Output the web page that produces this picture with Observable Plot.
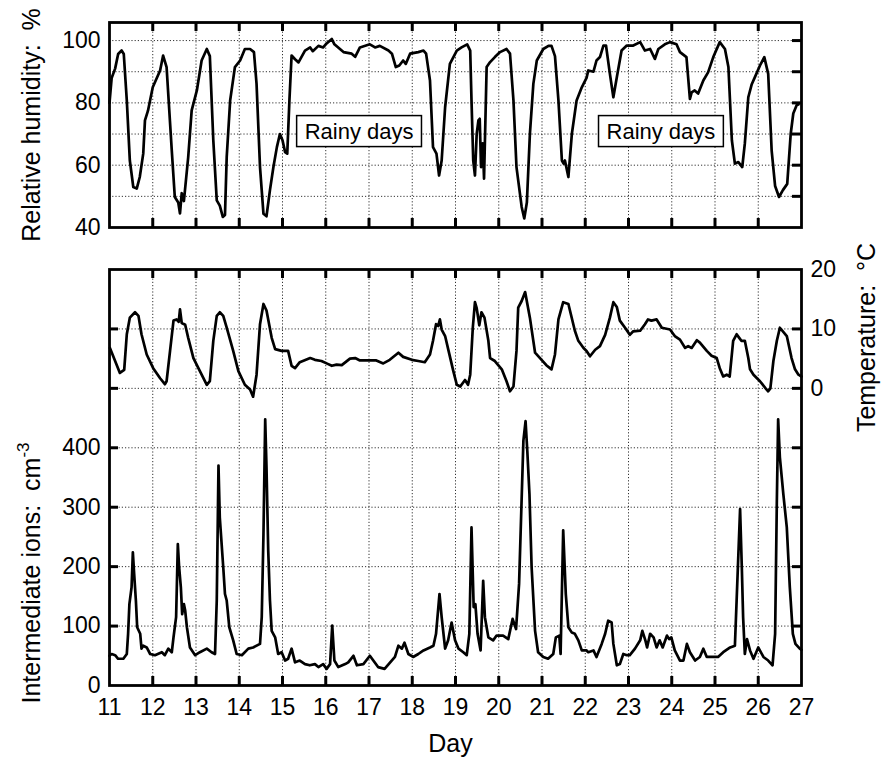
<!DOCTYPE html>
<html><head><meta charset="utf-8">
<script src="https://cdn.jsdelivr.net/npm/d3@7"></script>
<script src="https://cdn.jsdelivr.net/npm/@observablehq/plot@0.6"></script>
<style>
body{margin:0;background:#fff}
#wrap{position:relative;width:881px;height:758px;overflow:visible}
#wrap svg{position:absolute;left:0;overflow:visible;max-width:none}
</style>
</head><body><div id="wrap"></div>
<script>
// ---- Data ----
const dayTicks = [11,12,13,14,15,16,17,18,19,20,21,22,23,24,25,26,27];
const innerDays = [12,13,14,15,16,17,18,19,20,21,22,23,24,25,26];
const rhTicks = [40,60,80,100];
const rhGrid = [50,60,70,80,90,100];
const ionTicks = [0,100,200,300,400];
const ionGrid = [100,200,300,400,500,600];
const tempTicks = [0,10,20];

// Relative humidity, % : [day, value]
const humidity = [
[11.00,80],[11.05,88],[11.13,91],[11.20,95.7],[11.28,96.8],[11.33,95.7],[11.40,80.8],[11.47,61.5],[11.55,53],[11.63,52.5],
[11.70,56.2],[11.78,63.7],[11.82,74.4],[11.89,77.5],[12.00,85],[12.17,90.4],[12.24,95.2],[12.32,91.5],[12.44,64.7],[12.51,49.8],
[12.59,48],[12.63,44.5],[12.67,51],[12.72,48.5],[12.82,62.6],[12.90,77.6],[13.02,84],[13.13,93.6],[13.25,97.3],[13.32,95],
[13.40,68],[13.48,48.7],[13.55,47],[13.62,43.4],[13.67,44],[13.71,62.6],[13.79,80.8],[13.90,91.5],[14.02,93.6],[14.13,97.3],
[14.25,97.3],[14.34,96.3],[14.40,86.1],[14.48,59.4],[14.56,44.4],[14.63,43.6],[14.71,52],[14.79,59.4],[14.87,65.8],[14.94,70],
[15.00,68],[15.06,64.2],[15.11,63.7],[15.16,80.8],[15.21,95.2],[15.29,94],[15.37,93],[15.52,96.8],[15.64,97.8],[15.70,96.6],
[15.83,98.3],[15.94,97.8],[16.00,98.8],[16.14,100.5],[16.20,98.8],[16.41,96.3],[16.60,95.8],[16.68,94.8],[16.79,97.8],[17.02,98.8],
[17.14,97.8],[17.25,98.3],[17.45,96.8],[17.53,95.8],[17.62,91.5],[17.70,92],[17.79,93.6],[17.85,92.5],[17.95,95.8],[18.14,96.3],
[18.26,96.8],[18.32,95.8],[18.41,87.2],[18.48,65.8],[18.56,63.7],[18.62,56.7],[18.68,61.5],[18.76,78.6],[18.87,92.5],[19.03,96.8],
[19.14,97.8],[19.27,98.8],[19.34,96.8],[19.37,80.8],[19.41,61.5],[19.45,56.7],[19.49,70],[19.53,74.4],[19.56,74.9],[19.59,59.4],
[19.63,67],[19.66,55.7],[19.72,91.5],[19.80,93.1],[19.91,94.7],[20.03,96.3],[20.18,97.3],[20.26,95.8],[20.34,80.8],[20.41,59.4],
[20.53,46.6],[20.59,42.9],[20.65,48],[20.72,70],[20.80,86.1],[20.88,93.6],[21.03,97.3],[21.15,98.3],[21.22,98.3],[21.30,95],
[21.38,80.8],[21.46,61.5],[21.50,60.5],[21.53,61.5],[21.61,56.2],[21.69,70],[21.80,80.8],[21.92,85],[22.03,88],[22.07,90.4],
[22.19,90],[22.26,93.6],[22.34,94.7],[22.42,98.4],[22.48,98.4],[22.57,89.3],[22.65,81.8],[22.73,88.2],[22.84,96.8],[22.96,98.4],
[23.11,98.4],[23.27,99.5],[23.38,96.8],[23.50,97.3],[23.61,94.1],[23.69,97.3],[23.84,98.8],[23.96,99.5],[24.11,98.8],[24.19,96.3],
[24.34,94.7],[24.42,81.3],[24.46,83.4],[24.53,84],[24.61,83],[24.73,87.2],[24.84,89.8],[24.96,94.7],[25.11,99.5],[25.23,97.3],
[25.31,91.5],[25.39,68],[25.46,60.5],[25.54,61],[25.63,59.4],[25.69,67],[25.77,81.8],[25.85,86],[25.92,88.2],[26.04,92],
[26.14,94.7],[26.23,89.3],[26.31,64.7],[26.39,53.3],[26.48,49.8],[26.57,52],[26.67,54],[26.75,70],[26.81,76.6],[26.89,79.3],[26.93,79.5]
];

// Temperature, °C : [day, value]
const temperature = [
[11.01,6.8],[11.13,4.6],[11.24,2.6],[11.34,3.1],[11.40,9.1],[11.47,11.9],[11.59,12.8],[11.67,12.2],[11.74,9.1],[11.86,5.7],
[12.01,3.4],[12.17,1.7],[12.28,0.7],[12.32,1.2],[12.40,6.3],[12.48,11.4],[12.55,11.6],[12.60,11.2],[12.63,13.3],[12.67,11],
[12.75,10.7],[12.82,8.5],[12.94,5.1],[13.09,2.9],[13.25,0.6],[13.32,1.2],[13.40,8],[13.48,12.2],[13.55,12.8],[13.63,12.2],
[13.71,10.2],[13.86,6.3],[13.98,2.9],[14.13,0.6],[14.25,-0.2],[14.32,-1.4],[14.40,2.3],[14.48,10.8],[14.56,14.2],[14.63,13.1],
[14.75,8.5],[14.83,6.6],[14.98,6.3],[15.13,6.3],[15.21,3.8],[15.29,3.4],[15.40,4.4],[15.64,5.1],[15.75,4.8],[15.90,4.6],
[16.02,4.2],[16.14,3.8],[16.25,4.0],[16.37,3.9],[16.56,5.0],[16.68,5.1],[16.79,4.7],[17.02,4.7],[17.17,4.7],[17.33,4.2],
[17.48,4.8],[17.68,6.0],[17.79,5.3],[17.99,4.8],[18.14,4.6],[18.29,4.4],[18.41,5.7],[18.48,8],[18.55,10.8],[18.60,10.5],
[18.64,11.6],[18.68,9.9],[18.76,8.8],[18.84,6.3],[18.95,2.9],[19.03,0.6],[19.11,0.3],[19.22,1.4],[19.29,0.6],[19.34,2.3],
[19.40,10.2],[19.45,14.5],[19.49,13.5],[19.55,10.6],[19.60,12.8],[19.67,11.9],[19.76,8],[19.80,5.1],[19.91,4.6],[20.07,3.2],
[20.18,1.2],[20.26,-0.5],[20.34,0.3],[20.41,6.3],[20.45,13.6],[20.53,14.7],[20.61,16.2],[20.72,11.9],[20.84,6.0],[20.99,4.8],
[21.10,3.9],[21.22,3.2],[21.30,5.7],[21.38,11.6],[21.49,14.5],[21.61,14.2],[21.76,9.7],[21.84,8],[21.96,6.8],[22.03,6.3],
[22.11,5.4],[22.23,6.5],[22.34,7.1],[22.46,9],[22.57,11.9],[22.65,14.5],[22.73,13.7],[22.80,11.4],[22.92,10.2],[23.03,9],
[23.11,9.6],[23.27,9.7],[23.38,10.8],[23.45,11.6],[23.53,11.4],[23.65,11.6],[23.77,10.2],[23.96,9.9],[24.07,8.8],[24.19,8.2],
[24.31,6.8],[24.38,7.1],[24.46,6.8],[24.58,8.1],[24.65,7.7],[24.81,6.3],[24.92,5.5],[25.04,5.1],[25.11,3.4],[25.19,2],
[25.27,2.3],[25.34,2],[25.42,8],[25.50,9.1],[25.56,8.5],[25.61,8],[25.69,8],[25.77,5.1],[25.81,3.2],[25.89,2.3],
[26.04,1.2],[26.16,0.1],[26.23,-0.5],[26.28,0],[26.35,4.6],[26.43,8],[26.50,10.2],[26.66,8.8],[26.77,5.1],[26.85,3.2],[26.93,2.3],[27.00,2.0]
];

// Intermediate ions, cm^-3 : [day, value]
const ions = [
[11.00,50],[11.05,53],[11.13,51],[11.20,45],[11.32,45],[11.40,53],[11.43,87],[11.46,137],[11.51,165],[11.54,224],
[11.57,188],[11.61,143],[11.64,98],[11.71,87],[11.74,62],[11.78,67],[11.86,64],[11.94,53],[12.05,51],[12.21,56],
[12.28,51],[12.36,62],[12.44,56],[12.48,81],[12.54,115],[12.58,238],[12.61,199],[12.65,165],[12.68,120],[12.72,137],
[12.75,126],[12.79,98],[12.86,64],[12.98,51],[13.09,56],[13.25,62],[13.36,56],[13.44,53],[13.48,143],[13.52,370],
[13.55,283],[13.63,199],[13.67,154],[13.71,143],[13.77,98],[13.86,76],[13.94,53],[14.06,51],[14.21,62],[14.32,64],
[14.48,70],[14.52,115],[14.56,255],[14.60,448],[14.63,367],[14.67,227],[14.71,143],[14.75,92],[14.83,81],[14.90,53],
[14.98,56],[15.06,42],[15.13,45],[15.21,62],[15.29,39],[15.40,42],[15.52,36],[15.63,34],[15.75,36],[15.83,31],
[15.94,36],[16.02,28],[16.10,36],[16.15,101],[16.20,42],[16.29,31],[16.45,36],[16.52,39],[16.64,50],[16.72,34],
[16.87,36],[17.02,50],[17.10,42],[17.21,31],[17.36,28],[17.49,39],[17.60,48],[17.68,67],[17.76,62],[17.82,72],
[17.91,53],[18.02,48],[18.14,53],[18.26,59],[18.41,64],[18.49,67],[18.55,87],[18.63,154],[18.68,115],[18.76,62],
[18.83,76],[18.91,106],[18.99,76],[19.07,62],[19.18,56],[19.26,51],[19.32,87],[19.37,266],[19.42,132],[19.46,137],
[19.51,87],[19.58,59],[19.64,176],[19.68,115],[19.76,81],[19.87,76],[19.95,84],[20.10,84],[20.22,78],[20.32,112],
[20.40,95],[20.47,171],[20.57,412],[20.62,445],[20.66,395],[20.71,322],[20.76,199],[20.84,92],[20.91,56],[21.03,48],
[21.14,45],[21.26,53],[21.32,81],[21.40,84],[21.43,53],[21.49,261],[21.55,154],[21.61,98],[21.69,89],[21.76,87],
[21.84,76],[21.92,59],[22.03,59],[22.07,56],[22.19,59],[22.26,48],[22.38,70],[22.46,87],[22.53,109],[22.61,106],
[22.65,70],[22.73,34],[22.80,36],[22.88,53],[22.96,51],[23.03,51],[23.15,62],[23.27,76],[23.32,92],[23.39,76],
[23.43,64],[23.50,87],[23.58,81],[23.65,64],[23.72,76],[23.79,64],[23.89,84],[23.94,78],[23.99,81],[24.07,59],
[24.19,42],[24.27,42],[24.35,70],[24.42,56],[24.54,42],[24.65,48],[24.73,62],[24.81,48],[24.96,48],[25.07,48],
[25.19,56],[25.35,64],[25.46,67],[25.50,143],[25.58,297],[25.62,199],[25.65,115],[25.69,53],[25.74,78],[25.81,59],
[25.89,45],[26.00,64],[26.12,48],[26.23,42],[26.33,34],[26.39,87],[26.43,311],[26.46,448],[26.50,384],[26.58,322],
[26.66,266],[26.73,165],[26.80,87],[26.86,70],[26.96,62],[27.00,60]
];

const rainyLabels = [
  {day: 16.77, rh: 70.8, label: "Rainy days"},
  {day: 23.75, rh: 70.8, label: "Rainy days"}
];
const rhTitle = "Relative humidity:\u00a0\u00a0%";
const ionTitle = "Intermediate ions:\u00a0\u00a0cm";
const ionTitleSup = "-3";
const tempTitle = "Temperature:\u00a0\u00a0°C";
const dayTitle = "Day";

// temperature drawn against the ion scale: 0 °C ↔ 500, 20 °C ↔ 700
const tempToIon = t => 500 + 10 * t;

// ---- Styles ----
const FONT = "'Liberation Sans', Arial, Helvetica, sans-serif";
const grid = {stroke: "#000", strokeOpacity: 0.8, strokeWidth: 1, strokeDasharray: "1.2,2"};
const TL = 9; // inward tick length (px)
const W = 881, ML = 109, MR = 80;
const FW = W - ML - MR; // frame width (px)
const tickSt = {stroke: "#000", strokeWidth: 3};
// short inward ticks drawn as rules inset from the frame
const inTicksX = (vals, FH) => [
  Plot.ruleX(vals, {x: d => d, insetTop: FH - TL, ...tickSt}),
  Plot.ruleX(vals, {x: d => d, insetBottom: FH - TL, ...tickSt})
];
const inTicksY = (vals, sides) => sides.map(s =>
  Plot.ruleY(vals, {y: d => d, ...(s === "left" ? {insetRight: FW - TL} : {insetLeft: FW - TL}), ...tickSt}));
const lineStyle = {stroke: "#000", strokeWidth: 2.7, strokeLinejoin: "round", strokeLinecap: "round"};

const TOP = {h: 240, mt: 22, mb: 13};
const BOT = {h: 518, mt: 29, mb: 73};

const topPlot = Plot.plot({
  width: W, height: TOP.h, marginTop: TOP.mt, marginBottom: TOP.mb, marginLeft: ML, marginRight: MR,
  x: {domain: [11, 27], axis: null},
  y: {domain: [40, 105.8], axis: null},
  style: {fontFamily: FONT, fontSize: "23px", color: "#000", background: "white", overflow: "visible"},
  marks: [
    Plot.gridX(innerDays, grid),
    Plot.gridY(rhGrid, grid),
    ...inTicksX(innerDays, TOP.h - TOP.mt - TOP.mb),
    ...inTicksY(rhGrid, ["right"]),
    Plot.axisY(rhTicks, {anchor: "left", tickSize: 0, tickPadding: 9, fontSize: 23, label: null}),
    Plot.line(humidity, {x: d => d[0], y: d => d[1], ...lineStyle}),
    Plot.frame({stroke: "#000", strokeWidth: 2.8}),
    Plot.text(rainyLabels, {x: "day", y: "rh", text: "label", fontSize: 22, lineAnchor: "middle", fill: "#000"}),
    Plot.text([rhTitle], {text: d => d, frameAnchor: "left", dx: -78, rotate: -90, textAnchor: "middle", lineAnchor: "middle", fontSize: 25, fill: "#000"})
  ]
});

const botPlot = Plot.plot({
  width: W, height: BOT.h, marginTop: BOT.mt, marginBottom: BOT.mb, marginLeft: ML, marginRight: MR,
  x: {domain: [11, 27], axis: null},
  y: {domain: [0, 700], axis: null},
  style: {fontFamily: FONT, fontSize: "23px", color: "#000", background: "transparent", overflow: "visible"},
  marks: [
    Plot.gridX(innerDays, grid),
    Plot.gridY(ionGrid, grid),
    ...inTicksX(innerDays, BOT.h - BOT.mt - BOT.mb),
    ...inTicksY(ionGrid, ["left", "right"]),
    Plot.axisX(dayTicks, {anchor: "bottom", tickSize: 0, tickPadding: 13, fontSize: 23, label: null}),
    Plot.axisY(ionTicks, {anchor: "left", tickSize: 0, tickPadding: 9, fontSize: 23, label: null}),
    Plot.axisY(tempTicks.map(tempToIon), {anchor: "right", tickSize: 0, tickPadding: 9, fontSize: 23, label: null, tickFormat: d => String((d - 500) / 10)}),
    Plot.line(temperature, {x: d => d[0], y: d => tempToIon(d[1]), ...lineStyle}),
    Plot.line(ions, {x: d => d[0], y: d => d[1], ...lineStyle}),
    Plot.frame({stroke: "#000", strokeWidth: 2.8}),
    Plot.text([ionTitle], {text: d => d, frameAnchor: "bottom-left", dx: -78, dy: 18, rotate: -90, textAnchor: "start", lineAnchor: "middle", fontSize: 25, fill: "#000"}),
    Plot.text([tempTitle], {text: d => d, frameAnchor: "top-right", dx: 65, dy: 68, rotate: -90, textAnchor: "middle", lineAnchor: "middle", fontSize: 25, fill: "#000"}),
    Plot.text([dayTitle], {text: d => d, frameAnchor: "bottom", dx: -5, dy: 58, textAnchor: "middle", lineAnchor: "middle", fontSize: 25, fill: "#000"})
  ]
});

const wrap = document.getElementById("wrap");
topPlot.style.top = "0px";
botPlot.style.top = "240px";
wrap.appendChild(topPlot);
wrap.appendChild(botPlot);

// boxes around the "Rainy days" annotations
const NS = "http://www.w3.org/2000/svg";
topPlot.querySelectorAll("text").forEach(t => {
  if (t.textContent === "Rainy days") {
    const b = t.getBBox();
    const r = document.createElementNS(NS, "rect");
    r.setAttribute("x", b.x - 8);
    r.setAttribute("y", b.y - 3);
    r.setAttribute("width", b.width + 16);
    r.setAttribute("height", b.height + 6);
    r.setAttribute("fill", "white");
    r.setAttribute("stroke", "#000");
    r.setAttribute("stroke-width", 1.5);
    if (t.getAttribute("transform")) r.setAttribute("transform", t.getAttribute("transform"));
    t.parentNode.insertBefore(r, t);
  }
});
// superscript on the ion unit
botPlot.querySelectorAll("text").forEach(t => {
  if (t.textContent === ionTitle) {
    const s = document.createElementNS(NS, "tspan");
    s.setAttribute("dy", "-0.6em");
    s.setAttribute("font-size", "17px");
    s.textContent = ionTitleSup;
    t.appendChild(s);
  }
});
</script></body></html>
